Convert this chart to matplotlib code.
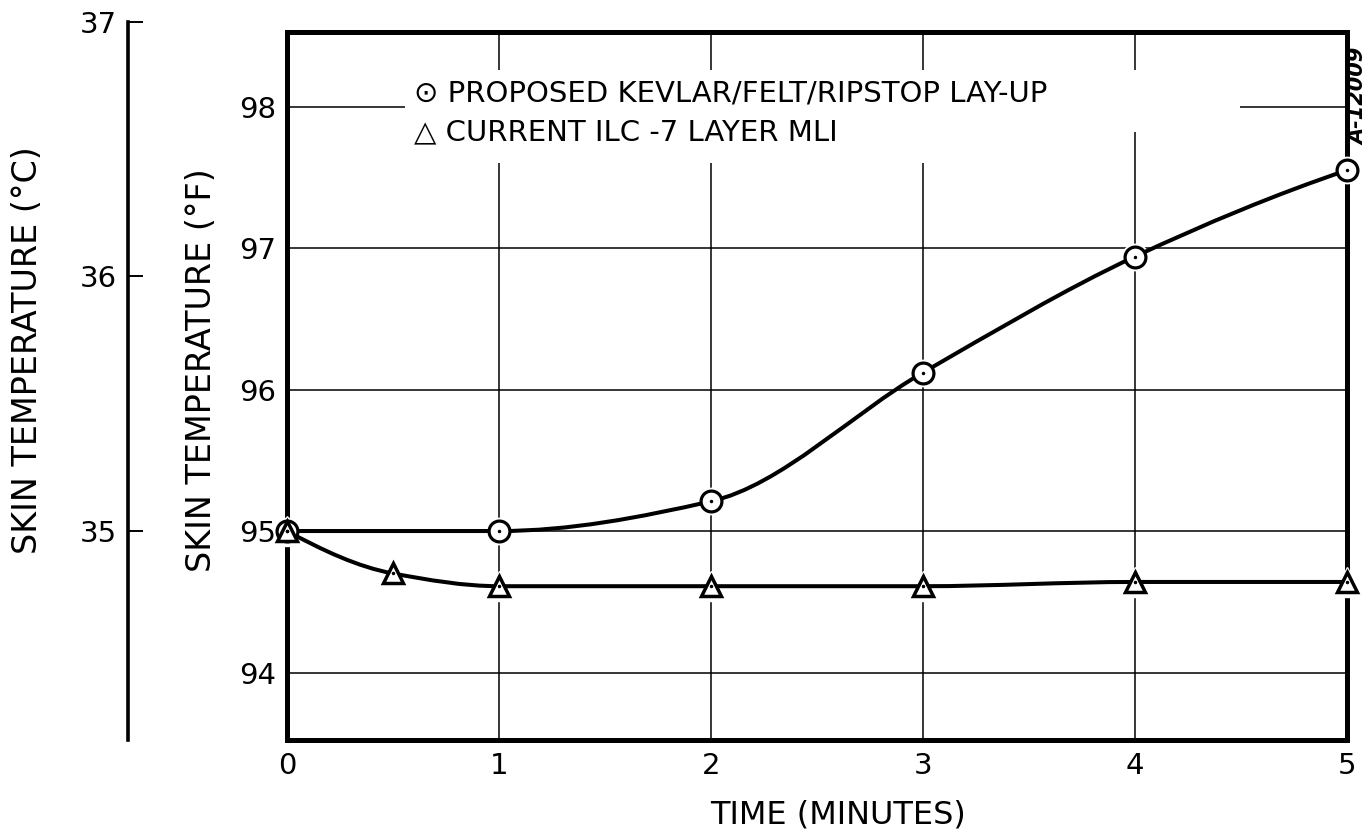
import numpy as np
import matplotlib
matplotlib.use("Agg")
import matplotlib.pyplot as plt
from matplotlib.path import Path
from matplotlib.patches import PathPatch, Rectangle

# ---- data -----------------------------------------------------------------
time_kevlar = [0, 1, 2, 3, 4, 5]
temp_kevlar = [95.0, 95.0, 95.21, 96.12, 96.94, 97.55]

time_ilc = [0, 0.5, 1, 2, 3, 4, 5]
temp_ilc = [95.0, 94.70, 94.61, 94.61, 94.61, 94.64, 94.64]

x_ticks = [0, 1, 2, 3, 4, 5]
f_ticks = [94, 95, 96, 97, 98]
c_ticks = [35, 36, 37]

label_kevlar = "PROPOSED KEVLAR/FELT/RIPSTOP LAY-UP"
label_ilc = "CURRENT ILC -7 LAYER MLI"

F_LIMITS = (93.523, 98.527)
C_TOP = 37


def f_to_c(f):
    return (f - 32.0) / 1.8


def c_to_f(c):
    return c * 1.8 + 32.0


def smooth_path(x, y):
    """Monotone cubic (Fritsch-Butland) curve through the points as a Bezier path."""
    x = np.asarray(x, float)
    y = np.asarray(y, float)
    h = np.diff(x)
    d = np.diff(y) / h
    n = len(x)
    m = np.zeros(n)
    for k in range(1, n - 1):
        if d[k - 1] * d[k] > 0:
            w1 = 2 * h[k] + h[k - 1]
            w2 = h[k] + 2 * h[k - 1]
            m[k] = (w1 + w2) / (w1 / d[k - 1] + w2 / d[k])
    m0 = ((2 * h[0] + h[1]) * d[0] - h[0] * d[1]) / (h[0] + h[1])
    m[0] = m0 if m0 * d[0] > 0 else 0.0
    mn = ((2 * h[-1] + h[-2]) * d[-1] - h[-1] * d[-2]) / (h[-1] + h[-2])
    m[-1] = mn if mn * d[-1] > 0 else 0.0
    verts = [(x[0], y[0])]
    codes = [Path.MOVETO]
    for k in range(n - 1):
        verts += [(x[k] + h[k] / 3, y[k] + m[k] * h[k] / 3),
                  (x[k + 1] - h[k] / 3, y[k + 1] - m[k + 1] * h[k] / 3),
                  (x[k + 1], y[k + 1])]
        codes += [Path.CURVE4] * 3
    return Path(verts, codes)


plt.rcParams['font.family'] = ['DejaVu Sans']

W, H = 1372, 836
fig = plt.figure(figsize=(W / 100, H / 100), dpi=100)
fig.patch.set_facecolor('white')


def fx(px):
    return px / W


def fy(py):
    return 1 - py / H


# ---- main (deg F) axes ------------------------------------------------------
left, right, top, bottom = 287, 1347, 32, 740
ax = fig.add_axes([fx(left), fy(bottom), fx(right) - fx(left), fy(top) - fy(bottom)])
ax.set_xlim(0, 5)
ax.set_ylim(*F_LIMITS)
ax.set_xticks(x_ticks)
ax.set_yticks(f_ticks)
ax.set_xticklabels([str(v) for v in x_ticks])
ax.set_yticklabels([str(v) for v in f_ticks])
ax.tick_params(axis='both', length=0, labelsize=21)
ax.tick_params(axis='x', pad=9)
ax.tick_params(axis='y', pad=8)
ax.grid(True, color='black', linewidth=1.1)
ax.set_axisbelow(True)
for sp in ax.spines.values():
    sp.set_linewidth(3.6)
    sp.set_color('black')

ax.set_xlabel("TIME (MINUTES)", fontsize=23)
ax.xaxis.set_label_coords(fx(838), fy(799), transform=fig.transFigure)
ax.set_ylabel("SKIN TEMPERATURE (°F)", fontsize=24)
ax.yaxis.set_label_coords(fx(218), fy(370), transform=fig.transFigure)

# curves
for xs, ys in [(time_kevlar, temp_kevlar), (time_ilc, temp_ilc)]:
    ax.add_patch(PathPatch(smooth_path(xs, ys), fill=False, edgecolor='black',
                           linewidth=2.9, capstyle='round', zorder=3, clip_on=False))

# white halos so the grid and frame break around each symbol
ax.plot(time_kevlar, temp_kevlar, 'o', ms=19, color='white', mec='white',
        zorder=2.7, clip_on=False)
ax.plot(time_ilc, temp_ilc, '^', ms=21, color='white', mec='white',
        zorder=2.7, clip_on=False)

# symbols
ax.plot(time_kevlar, temp_kevlar, 'o', ms=15, mfc='white', mec='black', mew=2.3,
        zorder=4, clip_on=False)
ax.plot(time_kevlar, temp_kevlar, '.', ms=3, color='black', zorder=5, clip_on=False)
ax.plot(time_ilc, temp_ilc, '^', ms=15, mfc='white', mec='black', mew=2.5,
        zorder=4, clip_on=False)
ax.plot(time_ilc, temp_ilc, '.', ms=3, color='black', zorder=5, clip_on=False)

# key: blank the grid behind the lettering, then write the two entries
ax.add_patch(Rectangle((0.557, 97.823), 4.495 - 0.557, 98.261 - 97.823,
                       facecolor='white', edgecolor='none', zorder=2))
ax.add_patch(Rectangle((0.557, 97.604), 3.41 - 0.557, 97.90 - 97.604,
                       facecolor='white', edgecolor='none', zorder=2))
ax.text(0.60, 98.09, "⊙ " + label_kevlar, fontsize=21, va='center', ha='left',
        zorder=6)
ax.text(0.60, 97.82, "△ " + label_ilc, fontsize=21, va='center', ha='left',
        zorder=6)

# drawing number
fig.text(fx(1358), fy(96), "A-12009", rotation=90, fontsize=15,
         fontweight='bold', fontstyle='italic', ha='center', va='center')

# ---- deg C scale -----------------------------------------------------------
f_lo, f_hi = F_LIMITS
main_h = fy(top) - fy(bottom)
c_height = main_h * (c_to_f(C_TOP) - f_lo) / (f_hi - f_lo)
axc = fig.add_axes([fx(128), fy(bottom), 0.0005, c_height])
axc.set_ylim(f_to_c(f_lo), C_TOP)
axc.patch.set_visible(False)
for name in ['right', 'top', 'bottom']:
    axc.spines[name].set_visible(False)
axc.spines['left'].set_linewidth(2.6)
axc.set_xticks([])
axc.set_yticks(c_ticks)
axc.set_yticklabels([str(v) for v in c_ticks])
axc.tick_params(axis='y', direction='in', length=11, width=1.4, labelsize=21, pad=8)
axc.set_ylabel("SKIN TEMPERATURE (°C)", fontsize=24)
axc.yaxis.set_label_coords(fx(44), fy(350), transform=fig.transFigure)

fig.savefig("out.png", dpi=100, facecolor='white')
